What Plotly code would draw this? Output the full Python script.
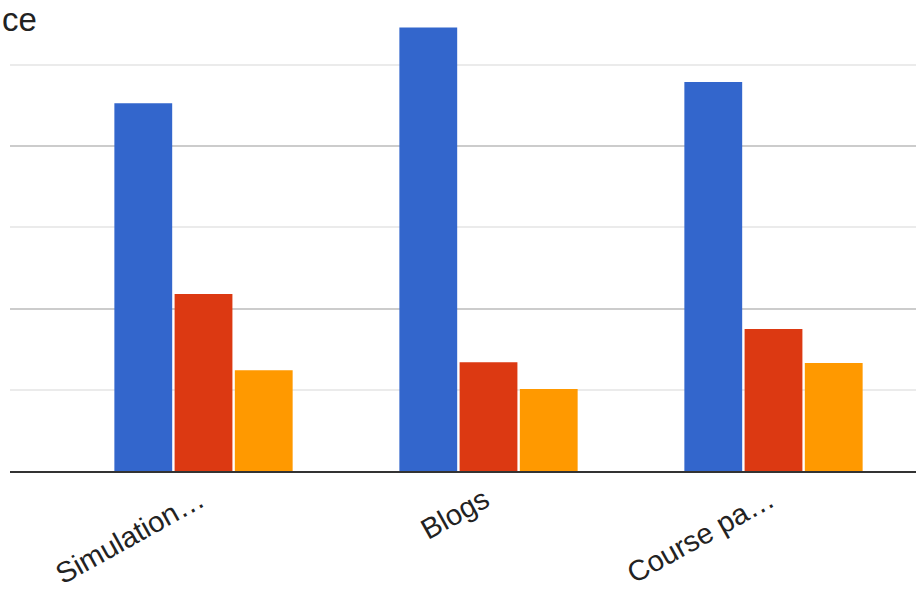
import plotly.graph_objects as go

categories = ["Simulation…", "Blogs", "Course pa…"]
series_a = [45.3, 54.6, 47.9]
series_b = [21.8, 13.4, 17.5]
series_c = [12.4, 10.1, 13.3]
series_names = ["Series A", "Series B", "Series C"]
colors = ["#3366cc", "#dc3912", "#ff9900"]

fig = go.Figure()
for name, vals, col in zip(series_names, [series_a, series_b, series_c], colors):
    fig.add_trace(go.Bar(x=categories, y=vals, name=name, marker=dict(color=col, line=dict(width=0))))

W, H = 921, 596
ml, mr, mt, mb = 10, 5, 0, 125
fig.update_layout(
    width=W, height=H,
    margin=dict(l=ml, r=mr, t=mt, b=mb, pad=0, autoexpand=False),
    paper_bgcolor="white", plot_bgcolor="white",
    showlegend=False,
    barmode="group", bargap=0.366, bargroupgap=0.04,
    font=dict(family="Liberation Sans, Arial, sans-serif", color="#222222"),
    xaxis=dict(
        range=[-0.679, 2.5], showgrid=False, zeroline=False,
        showline=True, linecolor="#333333", linewidth=2,
        tickangle=-29, tickfont=dict(size=29, color="#222222"),
        ticks="", ticklabelstandoff=-1, ticklabelshift=-4, automargin=False,
    ),
    yaxis=dict(
        range=[0, 58], dtick=20, tick0=0,
        showgrid=True, gridcolor="#cccccc", gridwidth=2,
        minor=dict(dtick=10, showgrid=True, gridcolor="#ebebeb", gridwidth=2),
        zeroline=False, showticklabels=False, ticks="", automargin=False,
    ),
    annotations=[dict(
        text="ce", xref="paper", yref="paper",
        x=(1 - ml) / (W - ml - mr), y=1,
        xanchor="left", yanchor="top", showarrow=False, borderpad=0,
        font=dict(size=33, color="#222222"),
    )],
)

fig.write_html("out.html")
